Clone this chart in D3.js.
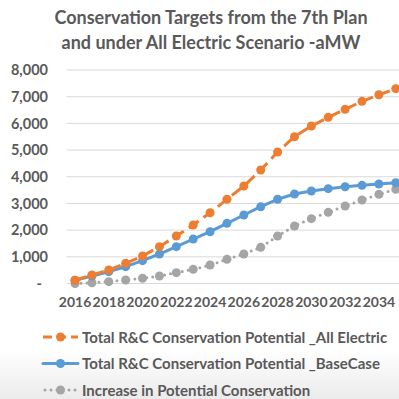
<!DOCTYPE html>
<html>
<head>
<meta charset="utf-8">
<script src="https://cdn.jsdelivr.net/npm/d3@7"></script>
<style>
  html, body { margin: 0; padding: 0; background: #fff; }
  svg { display: block; }
  text { font-family: Lato, "Open Sans", sans-serif; font-weight: bold; fill: #595959; }
</style>
</head>
<body>
<svg id="chart" width="399" height="399"></svg>
<script>
// Conservation potential, aMW, by year
const years = [2016, 2017, 2018, 2019, 2020, 2021, 2022, 2023, 2024, 2025,
               2026, 2027, 2028, 2029, 2030, 2031, 2032, 2033, 2034, 2035];
const allElectric = [120, 318, 506, 756, 1030, 1380, 1780, 2192, 2653, 3155,
                     3653, 4252, 4927, 5500, 5900, 6227, 6527, 6826, 7074, 7300];
const baseCase = [120, 281, 443, 630, 855, 1105, 1380, 1667, 1941, 2255,
                  2566, 2878, 3155, 3353, 3465, 3553, 3627, 3678, 3727, 3777];
const increase = [0, 30, 70, 130, 195, 280, 405, 530, 693, 906,
                  1105, 1356, 1780, 2155, 2430, 2667, 2904, 3128, 3342, 3530];
const yTicks = [0, 1000, 2000, 3000, 4000, 5000, 6000, 7000, 8000];
const xTickYears = [2016, 2018, 2020, 2022, 2024, 2026, 2028, 2030, 2032, 2034];
const titleLines = ["Conservation Targets from the 7th Plan",
                    "and under All Electric Scenario -aMW"];
const seriesNames = ["Total R&C Conservation Potential _All Electric",
                     "Total R&C Conservation Potential _BaseCase",
                     "Increase in Potential Conservation"];

const series = [
  { name: seriesNames[0], values: allElectric, color: "#ED7D31", dash: "12,6", cap: "butt" },
  { name: seriesNames[1], values: baseCase, color: "#5B9BD5", dash: null, cap: "round" },
  { name: seriesNames[2], values: increase, color: "#A5A5A5", dash: "0,6", cap: "round" }
];

const svg = d3.select("#chart");

// soft grey fade along the bottom edge
const defs = svg.append("defs");
const grad = defs.append("linearGradient").attr("id", "fade")
  .attr("x1", 0).attr("y1", 0).attr("x2", 0).attr("y2", 1);
grad.append("stop").attr("offset", "0%").attr("stop-color", "#ffffff");
grad.append("stop").attr("offset", "100%").attr("stop-color", "#ebebeb");
svg.append("rect").attr("x", 0).attr("y", 350).attr("width", 399).attr("height", 49)
  .attr("fill", "url(#fade)");

// title
svg.append("g").selectAll("text").data(titleLines).join("text")
  .attr("x", 211).attr("y", (d, i) => 24 + i * 25)
  .attr("text-anchor", "middle")
  .style("font-size", "18px")
  .text(d => d);

const x = d3.scaleBand().domain(years).range([66.6, 404.2]);
const cx = d => x(d) + x.bandwidth() / 2;
const y = d3.scaleLinear().domain([0, 8000]).range([283.5, 70]);

// horizontal gridlines
svg.append("g").selectAll("line").data(yTicks).join("line")
  .attr("x1", 66.6).attr("x2", 404.2)
  .attr("y1", d => y(d)).attr("y2", d => y(d))
  .attr("stroke", "#D9D9D9").attr("stroke-width", 1);

// y axis labels
const yAxis = d3.axisLeft(y).tickValues(yTicks).tickSize(0)
  .tickFormat(d => d === 0 ? "-" : d3.format(",")(d));
const gy = svg.append("g").attr("transform", "translate(48,0)").call(yAxis);
gy.select(".domain").remove();
gy.selectAll("text").attr("x", d => d === 0 ? -6 : 0)
  .style("font-size", "14.5px").style("font-family", null);

// x axis labels
const xAxis = d3.axisBottom(x).tickValues(xTickYears).tickSize(0).tickFormat(d3.format("d"));
const gx = svg.append("g").attr("transform", "translate(0,294)").call(xAxis);
gx.select(".domain").remove();
gx.selectAll("text").style("font-size", "14px").style("font-family", null);

// series lines and markers
const line = d3.line().x((d, i) => cx(years[i])).y(d => y(d));
series.slice().reverse().forEach(s => {
  const g = svg.append("g");
  g.append("path").datum(s.values)
    .attr("d", line).attr("fill", "none")
    .attr("stroke", s.color).attr("stroke-width", 3)
    .attr("stroke-linecap", s.cap).attr("stroke-linejoin", "round")
    .attr("stroke-dasharray", s.dash);
  g.selectAll("circle").data(s.values).join("circle")
    .attr("cx", (d, i) => cx(years[i])).attr("cy", d => y(d))
    .attr("r", 4.5).attr("fill", s.color);
});

// legend
const leg = svg.append("g").selectAll("g").data(series).join("g")
  .attr("transform", (d, i) => `translate(0,${337 + i * 26.5})`);
leg.append("line").attr("x1", d => d.cap === "round" && d.dash ? 45 : 43).attr("x2", 78)
  .attr("y1", 0).attr("y2", 0)
  .attr("stroke", d => d.color).attr("stroke-width", 3)
  .attr("stroke-linecap", d => d.cap)
  .attr("stroke-dasharray", d => d.dash ? (d.dash === "0,6" ? "0,6" : "9,5") : null);
leg.append("circle").attr("cx", 60.5).attr("cy", 0).attr("r", 4.5).attr("fill", d => d.color);
leg.append("text").attr("x", 82).attr("y", 5.5)
  .style("font-size", "15px")
  .text(d => d.name);
</script>
</body>
</html>
